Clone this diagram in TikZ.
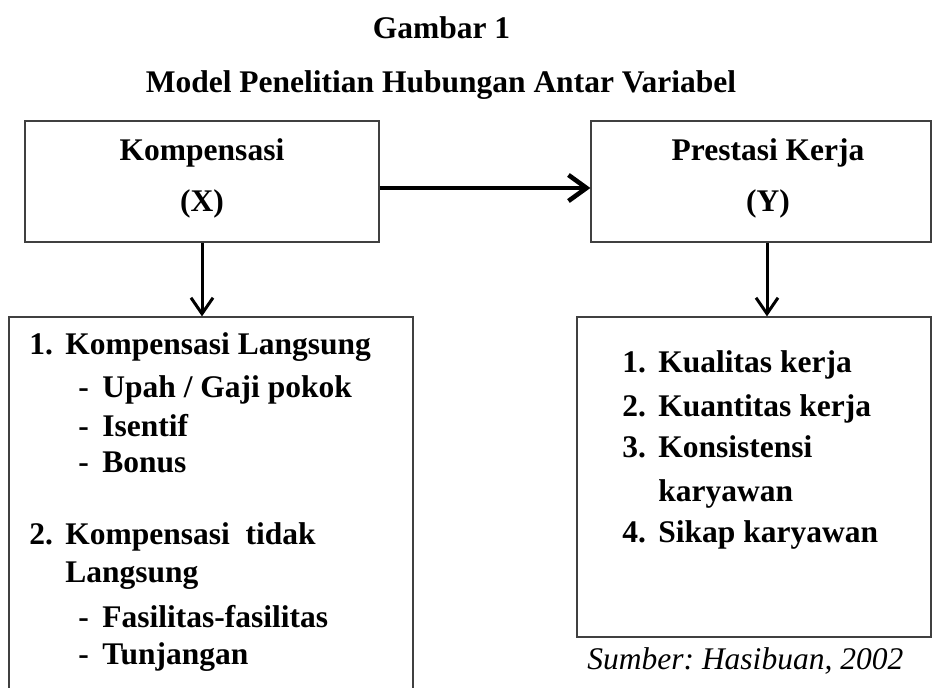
\documentclass[tikz,border=0pt]{standalone}
\usepackage{fontspec}
\setmainfont{Liberation Serif}
\usepackage{tikz}
\usetikzlibrary{arrows.meta}
\frenchspacing
\newcommand{\nomor}[1]{\makebox[18pt][l]{#1}}
\newcommand{\garis}{\makebox[12pt][l]{-}}
\tikzset{
	>=latex,                  % strelice
	kotak/.style={draw=black!75, line width=0.6pt, inner sep=0pt},
	judul/.style={anchor=base, inner sep=0pt},
	item/.style={anchor=base west, inner sep=0pt},
	panah/.style={-{Straight Barb[length=9pt,width=13pt]}, line width=2.3pt},
	panahkecil/.style={-{Straight Barb[length=8pt,width=11pt]}, line width=1.5pt}
}

\begin{document}
\begin{tikzpicture}[x=0.5pt,y=-0.5pt,
	font=\fontsize{15.75pt}{19pt}\selectfont\bfseries]
		% frame
		\clip (0,0) rectangle (932,688);
		
		% titles
		\node[judul] (gambar) at (441.5,39) {Gambar 1};
		\node[judul] (model) at (441,93) {Model Penelitian Hubungan Antar Variabel};
		
		% variables
		\node[kotak, minimum width=177pt, minimum height=60.5pt] (boxX) at (202,181.5) {};
		\node[kotak, minimum width=170pt, minimum height=60.5pt] (boxY) at (761,181.5) {};
		\node[judul] (komp) at (202,161) {Kompensasi};
		\node[judul] (varX) at (202,212) {(X)};
		\node[judul] (pres) at (768,161) {Prestasi Kerja};
		\node[judul] (varY) at (768,212) {(Y)};
		
		% indicators
		\node[kotak, minimum width=202pt, minimum height=206.5pt] (listX) at (211,523.5) {};
		\node[kotak, minimum width=177pt, minimum height=160pt] (listY) at (754,477) {};
		
		\node[item] (x1) at (29,355) {\nomor{1.}Kompensasi Langsung};
		\node[item] (x1a) at (78,398) {\garis Upah / Gaji pokok};
		\node[item] (x1b) at (78,437) {\garis Isentif};
		\node[item] (x1c) at (78,473) {\garis Bonus};
		\node[item] (x2) at (29,545) {\nomor{2.}Kompensasi\ \ tidak};
		\node[item] (x2l) at (65,583) {Langsung};
		\node[item] (x2a) at (78,628) {\garis Fasilitas-fasilitas};
		\node[item] (x2b) at (78,665) {\garis Tunjangan};
		
		\node[item] (y1) at (622,373) {\nomor{1.}Kualitas kerja};
		\node[item] (y2) at (622,417) {\nomor{2.}Kuantitas kerja};
		\node[item] (y3) at (622,458) {\nomor{3.}Konsistensi};
		\node[item] (y3l) at (658,502) {karyawan};
		\node[item] (y4) at (622,543) {\nomor{4.}Sikap karyawan};
		
		\node[item, font=\fontsize{15.75pt}{19pt}\selectfont\itshape] (sumber) at (587,670) {Sumber: Hasibuan, 2002};
		
		% arrows
		\draw[panah] ([yshift=-3.25pt]boxX.east) -- ([yshift=-3.25pt]boxY.west);
		\draw[panahkecil] (boxX.south) -- (boxX.south |- listX.north);
		\draw[panahkecil] ([xshift=3pt]boxY.south) -- ([xshift=3pt]boxY.south |- listY.north);
	\end{tikzpicture}
\end{document}
